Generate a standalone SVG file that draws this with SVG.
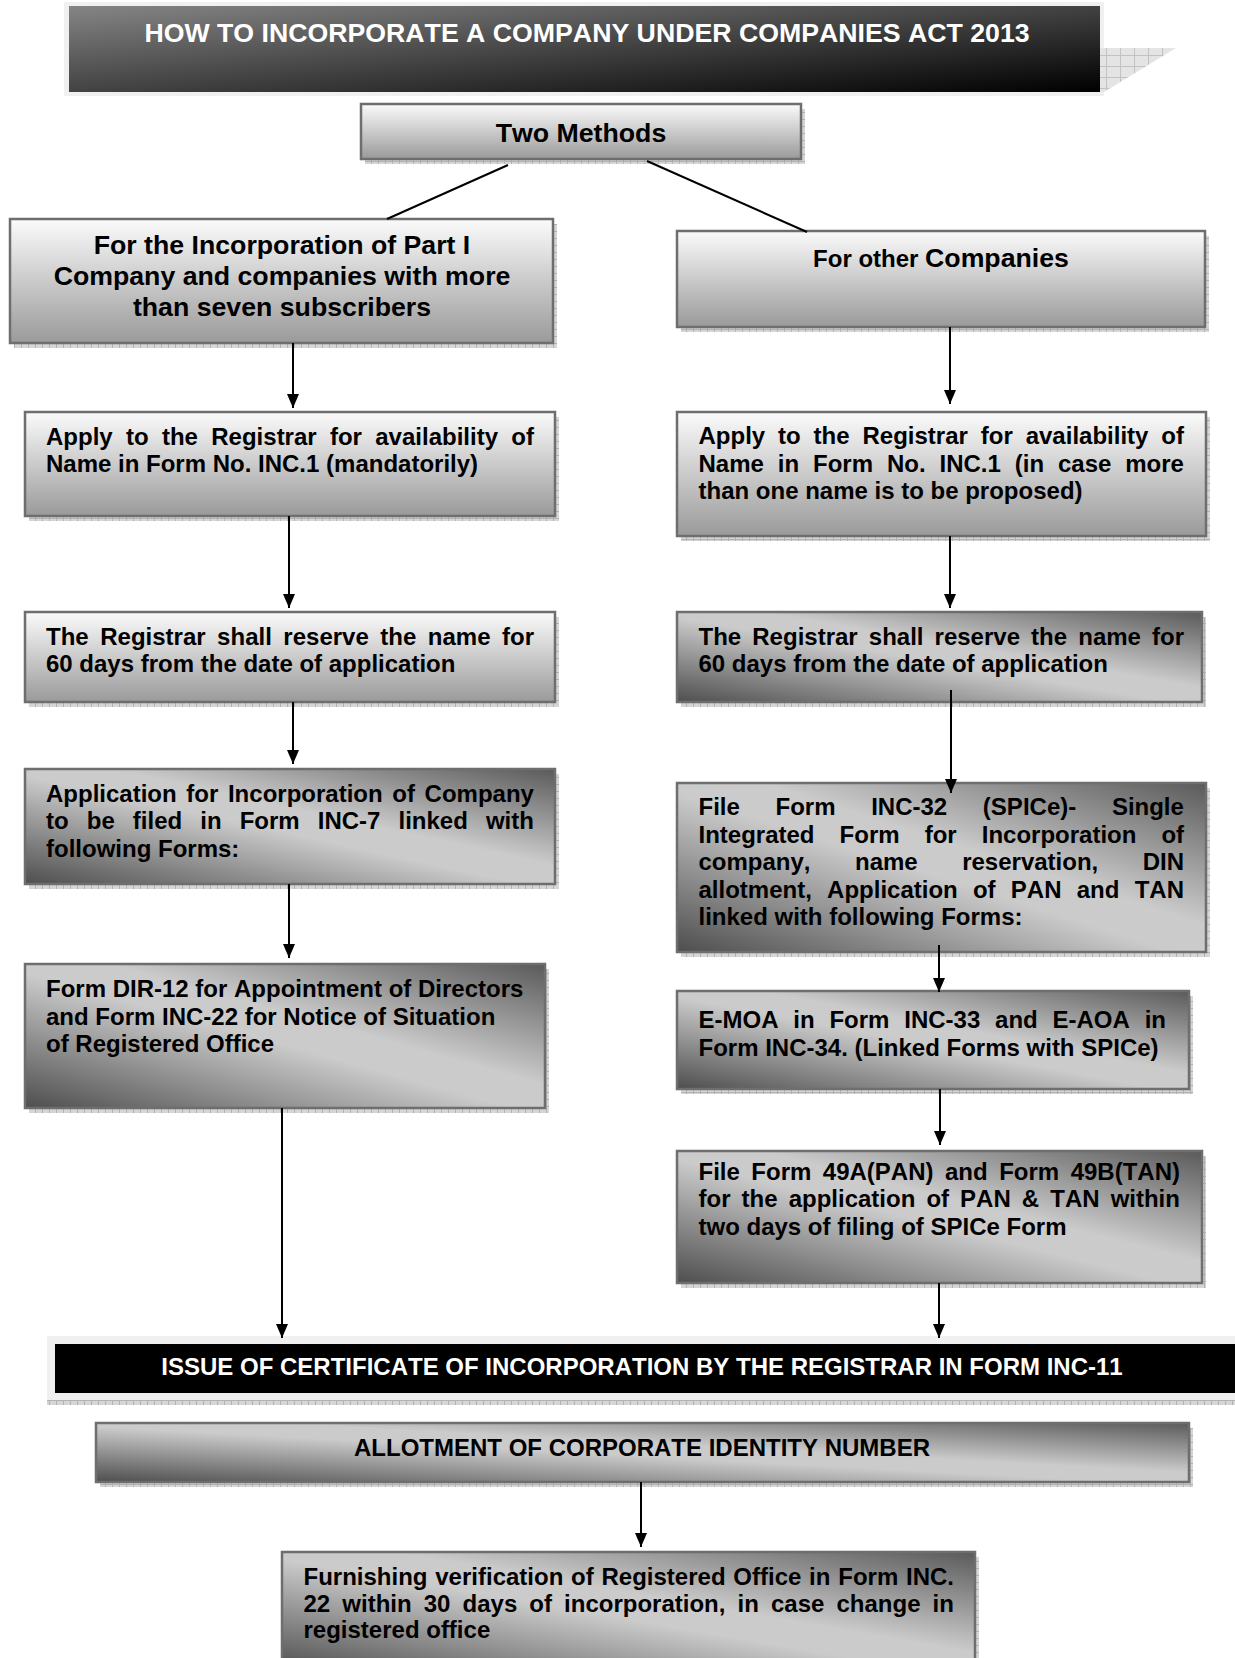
<svg xmlns="http://www.w3.org/2000/svg" width="1235" height="1658" viewBox="0 0 1235 1658">
<defs>
<style>
.box{stroke:#6e6e6e;stroke-width:2.5}
.gv{fill:url(#gv)}
.gd{fill:url(#gd)}
.sh{fill:url(#hatch)}
.t{font-family:"Liberation Sans",Arial,sans-serif;font-weight:bold;font-size:24px;fill:#000;font-kerning:none}
.h{font-size:26.7px;text-anchor:middle}
.w{fill:#fff}
.m{text-anchor:middle}
.c{stroke:#000;stroke-width:2;fill:none}
.a{marker-end:url(#ah)}
</style>
<linearGradient id="gv" x1="0" y1="0" x2="0" y2="1"><stop offset="0" stop-color="#fbfbfb"/><stop offset="1" stop-color="#9a9a9a"/></linearGradient>
<linearGradient id="gd" x1="0" y1="1" x2="1" y2="0"><stop offset="0" stop-color="#4e4e4e"/><stop offset="0.47" stop-color="#cbcbcb"/><stop offset="0.58" stop-color="#cbcbcb"/><stop offset="1" stop-color="#5a5a5a"/></linearGradient>
<linearGradient id="gt" x1="0" y1="0" x2="1" y2="1"><stop offset="0" stop-color="#858585"/><stop offset="1" stop-color="#000"/></linearGradient>
<pattern id="hatch" width="7" height="7" patternUnits="userSpaceOnUse"><rect width="7" height="7" fill="#d6d6d6"/><path d="M0 0.5H7M0.5 0V7" stroke="#b2b2b2" stroke-width="1"/></pattern>
<pattern id="grid" width="14" height="11" patternUnits="userSpaceOnUse"><rect width="14" height="11" fill="#e4e4e4"/><path d="M0 0.5H14M0.5 0V11" stroke="#c2c2c2" stroke-width="1"/></pattern>
<marker id="ah" viewBox="0 0 14 12" refX="14" refY="6" markerWidth="14" markerHeight="12" markerUnits="userSpaceOnUse" orient="auto"><path d="M0 0L14 6L0 12Z" fill="#000"/></marker>
</defs>
<rect width="1235" height="1658" fill="#fff"/>

<g id="title">
<rect x="64" y="2" width="1040" height="94" fill="#f0f0f0"/>
<polygon points="1099,48 1176,48 1104,92 1099,92" fill="url(#grid)"/>
<rect x="69" y="6" width="1031" height="86" fill="url(#gt)"/>
<text class="t h w" x="587" y="42" font-size="26.8">HOW TO INCORPORATE A COMPANY UNDER COMPANIES ACT 2013</text>
</g>

<g id="two-methods">
<rect class="sh" x="365" y="109" width="440" height="55"/>
<rect class="box gv" x="361" y="104" width="440" height="55"/>
<text class="t h" x="581" y="142">Two Methods</text>
</g>

<g id="part1">
<rect class="sh" x="14" y="224" width="543" height="124"/>
<rect class="box gv" x="10" y="219" width="543" height="124"/>
<text class="t h" x="282" y="254">For the Incorporation of Part I</text>
<text class="t h" x="282" y="285">Company and companies with more</text>
<text class="t h" x="282" y="316">than seven subscribers</text>
</g>

<g id="other">
<rect class="sh" x="681" y="236" width="528" height="96"/>
<rect class="box gv" x="677" y="231" width="528" height="96"/>
<text class="t m" x="941" y="267"><tspan font-size="24">For other </tspan><tspan font-size="26.7">Companies</tspan></text>
</g>

<g id="apply-left">
<rect class="sh" x="29" y="417" width="530" height="104"/>
<rect class="box gv" x="25" y="412" width="530" height="104"/>
<text class="t" x="46" y="445" word-spacing="6.65">Apply to the Registrar for availability of</text>
<text class="t" x="46" y="472">Name in Form No. INC.1 (mandatorily)</text>
</g>

<g id="apply-right">
<rect class="sh" x="681" y="417" width="529" height="124"/>
<rect class="box gv" x="677" y="412" width="529" height="124"/>
<text class="t" x="698.5" y="444" word-spacing="6.23">Apply to the Registrar for availability of</text>
<text class="t" x="698.5" y="472" word-spacing="7.24">Name in Form No. INC.1 (in case more</text>
<text class="t" x="698.5" y="499">than one name is to be proposed)</text>
</g>

<g id="reserve-left">
<rect class="sh" x="29" y="617" width="530" height="90"/>
<rect class="box gv" x="25" y="612" width="530" height="90"/>
<text class="t" x="46" y="645" word-spacing="4.87">The Registrar shall reserve the name for</text>
<text class="t" x="46" y="672">60 days from the date of application</text>
</g>

<g id="reserve-right">
<rect class="sh" x="681" y="617" width="525" height="90"/>
<rect class="box gd" x="677" y="612" width="525" height="90"/>
<text class="t" x="698.5" y="645" word-spacing="4.45">The Registrar shall reserve the name for</text>
<text class="t" x="698.5" y="672">60 days from the date of application</text>
</g>

<g id="inc7">
<rect class="sh" x="29" y="774" width="530" height="115"/>
<rect class="box gd" x="25" y="769" width="530" height="115"/>
<text class="t" x="46" y="802" word-spacing="2.98">Application for Incorporation of Company</text>
<text class="t" x="46" y="829" word-spacing="11.41">to be filed in Form INC-7 linked with</text>
<text class="t" x="46" y="857">following Forms:</text>
</g>

<g id="dir12">
<rect class="sh" x="29" y="969" width="520" height="144"/>
<rect class="box gd" x="25" y="964" width="520" height="144"/>
<text class="t" x="46" y="997">Form DIR-12 for Appointment of Directors</text>
<text class="t" x="46" y="1025">and Form INC-22 for Notice of Situation</text>
<text class="t" x="46" y="1052">of Registered Office</text>
</g>

<g id="inc32">
<rect class="sh" x="681" y="788" width="529" height="169"/>
<rect class="box gd" x="677" y="783" width="529" height="169"/>
<text class="t" x="698.5" y="815" word-spacing="29.0">File Form INC-32 (SPICe)- Single</text>
<text class="t" x="698.5" y="843" word-spacing="18.4">Integrated Form for Incorporation of</text>
<text class="t" x="698.5" y="870" word-spacing="37.8">company, name reservation, DIN</text>
<text class="t" x="698.5" y="898" word-spacing="8.56">allotment, Application of PAN and TAN</text>
<text class="t" x="698.5" y="925">linked with following Forms:</text>
</g>

<g id="emoa">
<rect class="sh" x="681" y="996" width="512" height="98"/>
<rect class="box gd" x="677" y="991" width="512" height="98"/>
<text class="t" x="698.5" y="1028" word-spacing="8.13">E-MOA in Form INC-33 and E-AOA in</text>
<text class="t" x="698.5" y="1056">Form INC-34. (Linked Forms with SPICe)</text>
</g>

<g id="pan-tan">
<rect class="sh" x="681" y="1156" width="525" height="132"/>
<rect class="box gd" x="677" y="1151" width="525" height="132"/>
<text class="t" x="698.5" y="1180" word-spacing="4.82">File Form 49A(PAN) and Form 49B(TAN)</text>
<text class="t" x="698.5" y="1207" word-spacing="4.4">for the application of PAN &amp; TAN within</text>
<text class="t" x="698.5" y="1235">two days of filing of SPICe Form</text>
</g>

<g id="certificate">
<rect x="47" y="1336" width="1188" height="64" fill="#f0f0f0"/>
<rect class="sh" x="47" y="1400" width="1188" height="5"/>
<rect x="55" y="1344" width="1180" height="49" fill="#000"/>
<text class="t m w" x="642" y="1375">ISSUE OF CERTIFICATE OF INCORPORATION BY THE REGISTRAR IN FORM INC-11</text>
</g>

<g id="cin">
<rect class="sh" x="100" y="1428" width="1093" height="59"/>
<rect class="box gd" x="96" y="1423" width="1093" height="59"/>
<text class="t m" x="642" y="1456">ALLOTMENT OF CORPORATE IDENTITY NUMBER</text>
</g>

<g id="furnishing">
<rect class="sh" x="286" y="1557" width="693" height="120"/>
<rect class="box gd" x="282" y="1552" width="693" height="120"/>
<text class="t" x="303.5" y="1585" word-spacing="1.11">Furnishing verification of Registered Office in Form INC.</text>
<text class="t" x="303.5" y="1612" word-spacing="5.44">22 within 30 days of incorporation, in case change in</text>
<text class="t" x="303.5" y="1638">registered office</text>
</g>

<g id="connectors">
<line class="c" x1="508" y1="165" x2="387" y2="219"/>
<line class="c" x1="647" y1="161" x2="807" y2="232"/>
<line class="c a" x1="293" y1="343" x2="293" y2="408"/>
<line class="c a" x1="289" y1="516" x2="289" y2="608"/>
<line class="c a" x1="293" y1="702" x2="293" y2="764"/>
<line class="c a" x1="289" y1="884" x2="289" y2="958"/>
<line class="c a" x1="282" y1="1108" x2="282" y2="1338"/>
<line class="c a" x1="950" y1="327" x2="950" y2="404"/>
<line class="c a" x1="950" y1="536" x2="950" y2="608"/>
<line class="c a" x1="951" y1="690" x2="951" y2="793"/>
<line class="c a" x1="939" y1="945" x2="939" y2="992"/>
<line class="c a" x1="940" y1="1089" x2="940" y2="1145"/>
<line class="c a" x1="939" y1="1283" x2="939" y2="1338"/>
<line class="c a" x1="641" y1="1482" x2="641" y2="1547"/>
</g>
</svg>
